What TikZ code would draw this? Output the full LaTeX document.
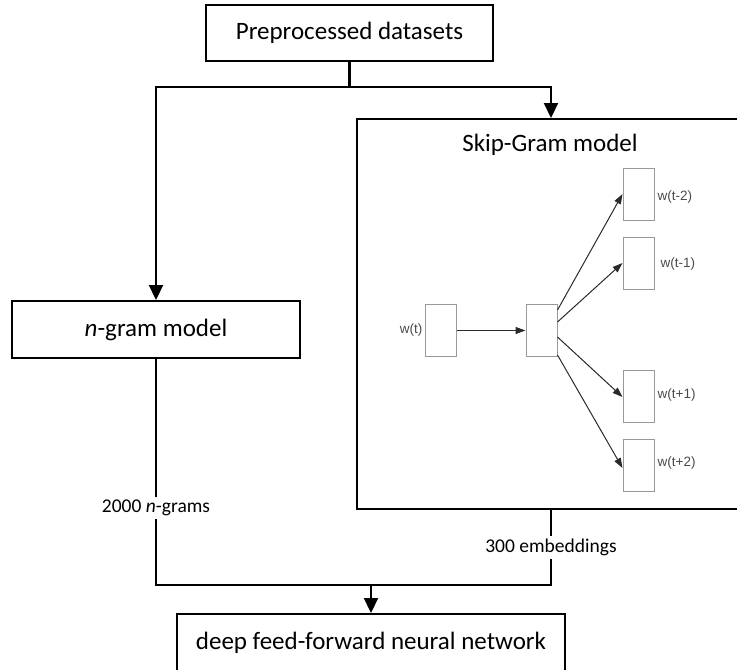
\documentclass[tikz,border=0pt]{standalone}
\usepackage{fontspec}
\setmainfont{Carlito}
\newfontfamily\arialf{Liberation Sans}
\usetikzlibrary{arrows.meta,calc}
\definecolor{boxgray}{HTML}{999999}
\definecolor{arrgray}{HTML}{2A2A2A}
\definecolor{labgray}{HTML}{4A4A4A}
\begin{document}
\begin{tikzpicture}[x=1pt,y=-1pt,
  mainbox/.style={draw=black,line width=2pt,rectangle,inner sep=0pt,font=\fontsize{25}{30}\selectfont},
  mainline/.style={draw=black,line width=2.2pt},
  mainarrow/.style={mainline,-{Triangle[width=14pt,length=15pt]}},
  flowlabel/.style={fill=white,inner sep=3pt,font=\fontsize{19.5}{23}\selectfont},
  vecbox/.style={draw=boxgray,line width=1pt,rectangle,minimum width=31pt,minimum height=52pt,inner sep=0pt},
  vecarrow/.style={draw=arrgray,line width=1pt,-{Triangle[width=7pt,length=10pt]}},
  veclabel/.style={text=labgray,font=\arialf\fontsize{13.5}{16}\selectfont,inner sep=2pt}
]
\useasboundingbox (0,0) rectangle (737,670);
\clip (0,0) rectangle (737,670);

% main boxes
\node[mainbox,minimum width=287pt,minimum height=56pt] (top) at (349.5,33) {Preprocessed datasets};
\node[mainbox,minimum width=288pt,minimum height=57pt] (ngram) at (156,329.5) {\textit{n}-gram model};
\node[mainbox,minimum width=388pt,minimum height=390pt] (skip) at (551,314) {};
\node[mainbox,minimum width=388pt,minimum height=57pt] (dnn) at (371,642.5) {deep feed-forward neural network};

% skip-gram contents
\node[font=\fontsize{25}{30}\selectfont,inner sep=0pt] (title) at (550,145) {Skip-Gram model};
\node[vecbox] (wt) at (440.5,330.5) {};
\node[vecbox] (hid) at (541.5,330.5) {};
\node[vecbox] (o1) at (638.5,194) {};
\node[vecbox] (o2) at (638.5,263) {};
\node[vecbox] (o3) at (638.5,396) {};
\node[vecbox] (o4) at (638.5,465) {};
\node[veclabel,anchor=east] (lwt) at (wt.west) {w(t)};
\node[veclabel,anchor=west] (lo1) at ($(o1.east)+(1,3)$) {w(t-2)};
\node[veclabel,anchor=west] (lo2) at ($(o2.east)+(4,1)$) {w(t-1)};
\node[veclabel,anchor=west] (lo3) at ($(o3.east)+(1,-1)$) {w(t+1)};
\node[veclabel,anchor=west] (lo4) at ($(o4.east)+(1,-2)$) {w(t+2)};
\draw[vecarrow] (wt.east) -- (hid.west);
\draw[vecarrow] ($(hid.east)+(0,-20.5)$) -- (o1.west);
\draw[vecarrow] ($(hid.east)+(0,-8.5)$) -- (o2.west);
\draw[vecarrow] ($(hid.east)+(0,6.5)$) -- ($(o3.west)+(0,1)$);
\draw[vecarrow] ($(hid.east)+(0,24.5)$) -- ($(o4.west)+(0,3)$);

% main connectors
\coordinate (split) at (349.5,87);
\coordinate (join) at (371,585);
\draw[mainline] (top.south) -- (split);
\draw[mainarrow] (split) -| (ngram.north);
\draw[mainarrow] (split) -| (skip.north);
\draw[mainline] (ngram.south) |- node[flowlabel,pos=0.33] (lab1) {2000 \textit{n}-grams} (join);
\draw[mainline] (skip.south) |- node[flowlabel,pos=0.25] (lab2) {300 embeddings} (join);
\draw[mainarrow] (join) -- (dnn.north);
\end{tikzpicture}
\end{document}
